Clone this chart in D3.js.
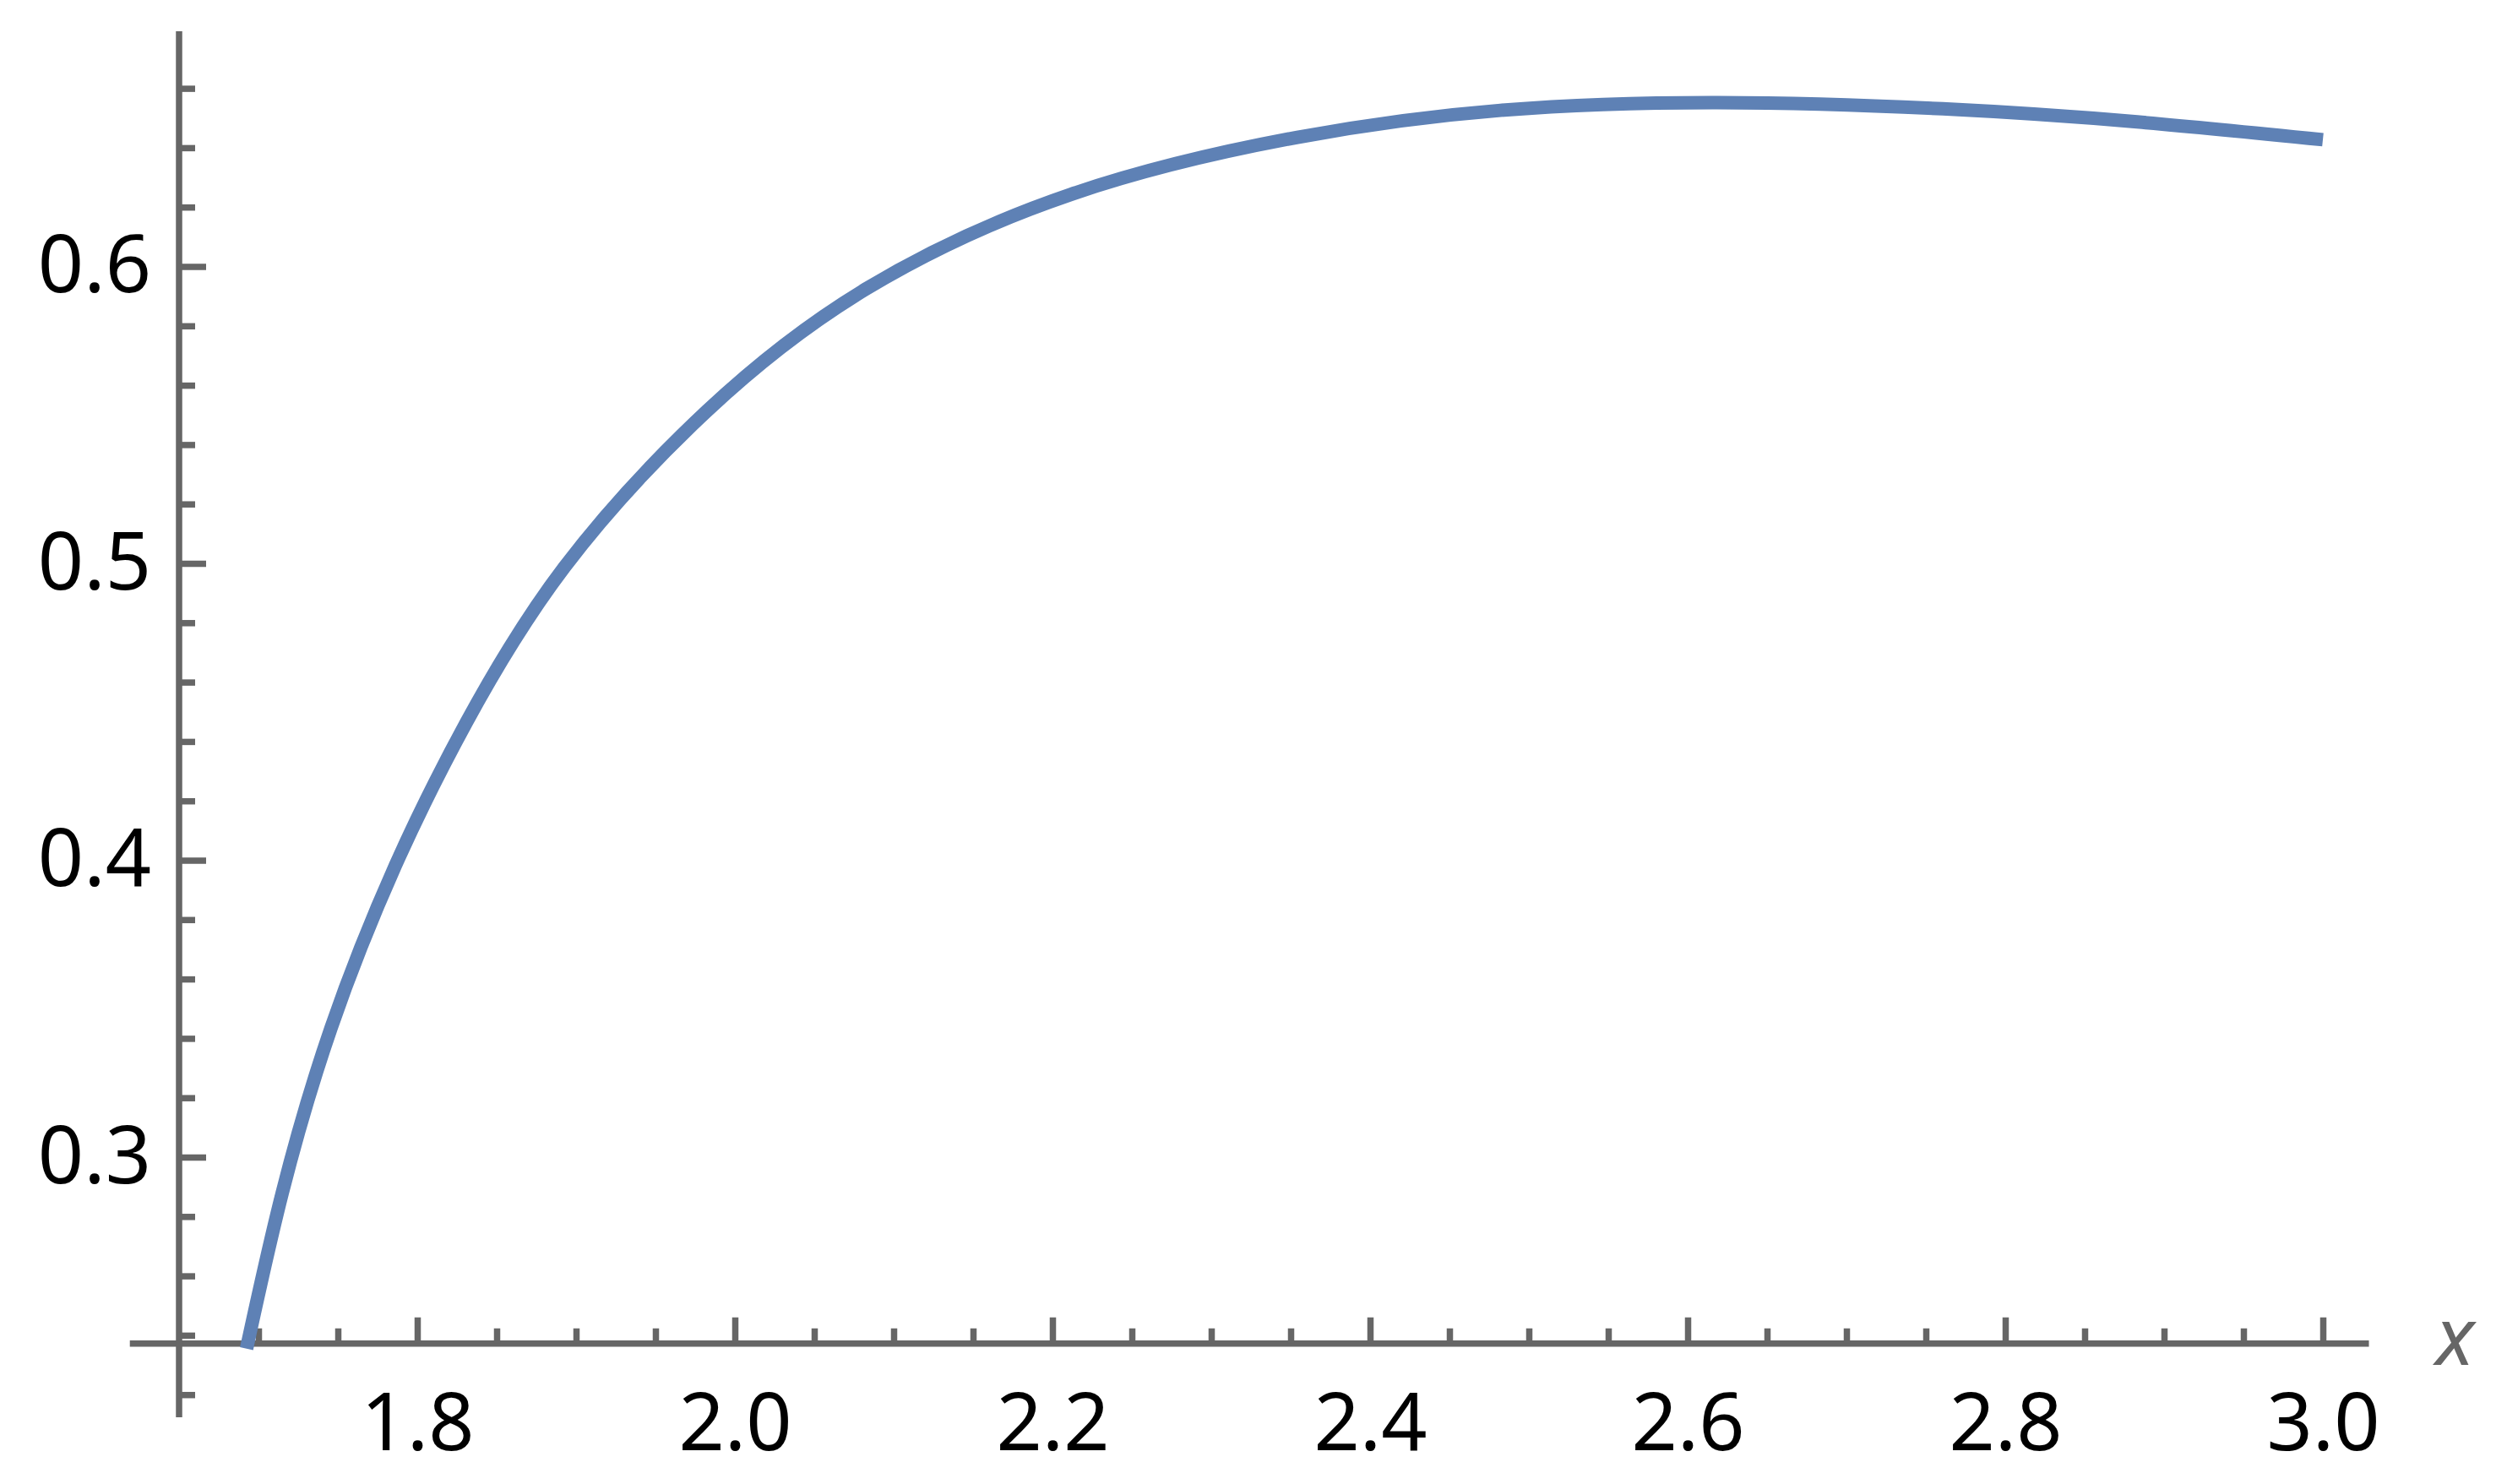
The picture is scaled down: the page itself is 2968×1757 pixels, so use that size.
<!DOCTYPE html>
<html>
<head>
    <meta charset="utf-8">
    <title>plot</title>
    <script src="https://d3js.org/d3.v7.min.js"></script>
    <style>
        body { margin: 0; background: #fff; }
        .axis-line { stroke: #666666; stroke-width: 7.5px; fill: none; }
        .curve { fill: none; stroke: #5e81b5; stroke-width: 16px; stroke-linejoin: round; }
        .tick line { stroke: #666666; stroke-width: 7.5px; }
        .tick text { fill: #000; }
    </style>
</head>
<body>

<svg width="2968" height="1757"></svg>

<script>
    // curve samples
    var xs = [1.6925, 1.7149, 1.7457, 1.7862, 1.8309, 1.8926, 1.9825, 2.0825, 2.2117, 2.3543,
              2.4822, 2.6186, 2.7606, 2.8830, 3.0];
    var ys = [0.2355, 0.2878, 0.3435, 0.3982, 0.4464, 0.4987, 0.5514, 0.5924, 0.6243, 0.6435,
              0.6526, 0.6552, 0.6531, 0.6487, 0.6427];

    var xMajor = [1.8, 2.0, 2.2, 2.4, 2.6, 2.8, 3.0];
    var xMinor = [1.70, 1.75, 1.85, 1.90, 1.95, 2.05, 2.10, 2.15, 2.25, 2.30, 2.35, 2.45, 2.50,
                  2.55, 2.65, 2.70, 2.75, 2.85, 2.90, 2.95];
    var yMajor = [0.3, 0.4, 0.5, 0.6];
    var yMinor = [0.22, 0.24, 0.26, 0.28, 0.32, 0.34, 0.36, 0.38, 0.42, 0.44, 0.46, 0.48,
                  0.52, 0.54, 0.56, 0.58, 0.62, 0.64, 0.66];

    // where the axes cross and how far they run
    var xOrigin = 1.65, yOrigin = 0.2372;
    var xExtent = [1.619, 3.029], yExtent = [0.2124, 0.6792];

    var svg = d3.select("svg");
    var font = "'Noto Sans', 'Open Sans', sans-serif";

    var x = d3.scaleLinear().domain([1.8, 3.0]).range([494, 2750]);
    var y = d3.scaleLinear().domain([0.3, 0.6]).range([1370, 315.5]);

    // axis lines
    svg.append("line")
        .attr("class", "axis-line")
        .attr("x1", x(xExtent[0])).attr("x2", x(xExtent[1]))
        .attr("y1", y(yOrigin)).attr("y2", y(yOrigin));

    svg.append("line")
        .attr("class", "axis-line")
        .attr("x1", x(xOrigin)).attr("x2", x(xOrigin))
        .attr("y1", y(yExtent[0])).attr("y2", y(yExtent[1]));

    // x ticks
    var gx = svg.append("g").attr("transform", "translate(0," + y(yOrigin) + ")");
    gx.call(d3.axisBottom(x).tickValues(xMinor).tickSize(-18).tickFormat(""));
    var gx2 = svg.append("g").attr("transform", "translate(0," + y(yOrigin) + ")");
    gx2.call(d3.axisBottom(x).tickValues(xMajor).tickSize(-31).tickPadding(59).tickFormat(d3.format(".1f")));

    // y ticks
    var gy = svg.append("g").attr("transform", "translate(" + x(xOrigin) + ",0)");
    gy.call(d3.axisLeft(y).tickValues(yMinor).tickSize(-19).tickFormat(""));
    var gy2 = svg.append("g").attr("transform", "translate(" + x(xOrigin) + ",0)");
    gy2.call(d3.axisLeft(y).tickValues(yMajor).tickSize(-32).tickPadding(33).tickFormat(d3.format(".1f")));

    svg.selectAll(".domain").remove();
    svg.selectAll("g").attr("font-family", font).attr("font-size", 95);
    svg.selectAll(".tick text").attr("fill", "#000");

    // the curve
    var pts = xs.map(function(v, i) { return [v, ys[i]]; });
    svg.append("path")
        .datum(pts)
        .attr("class", "curve")
        .attr("d", d3.line()
            .x(function(d) { return x(d[0]); })
            .y(function(d) { return y(d[1]); })
            .curve(d3.curveNatural));

    // axis label
    svg.append("text")
        .attr("x", x(xExtent[1]) + 102)
        .attr("y", y(yOrigin) + 25)
        .attr("text-anchor", "middle")
        .attr("font-family", font)
        .attr("font-style", "italic")
        .attr("font-size", 95)
        .attr("fill", "#666666")
        .text("x");
</script>

</body>
</html>
